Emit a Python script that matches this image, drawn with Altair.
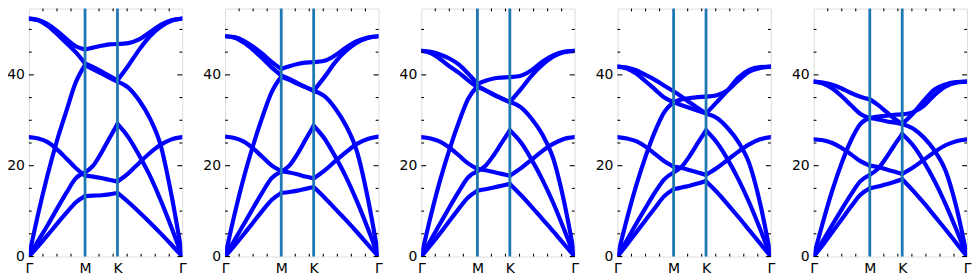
import altair as alt
import pandas as pd

# x positions along the path Γ-M-K-Γ (fraction of path length)
x_grid = [0.0, 0.061, 0.122, 0.183, 0.244, 0.305, 0.366, 0.419, 0.472, 0.524, 0.5774,
          0.6478, 0.7183, 0.7887, 0.8591, 0.9296, 1.0]
tick_pos = [0.0, 0.366, 0.5774, 1.0]
tick_labels = ["Γ", "M", "K", "Γ"]
vline_pos = [0.366, 0.5774]
y_major = [0, 20, 40]
y_minor = [5, 10, 15, 25, 30, 35, 45, 50]
x_minor = [0.0915, 0.183, 0.2745, 0.4575, 0.549, 0.6405, 0.732, 0.8235, 0.915]

# ---------------- panel 1 ----------------
p1_za = [0, 2.3, 4.7, 7.2, 9.6, 11.9, 13.3, 13.4, 13.5, 13.7, 14.0, 12.0, 9.8, 7.5, 5.1, 2.6, 0]
p1_ta = [0, 3.5, 6.9, 10.5, 14.0, 17.2, 18.5, 20.0, 22.8, 26.0, 29.2, 26.3, 22.3, 17.8, 12.4, 6.4, 0]
p1_zo = [26.3, 26.0, 25.2, 23.6, 21.6, 19.5, 17.8, 17.6, 17.3, 16.9, 16.5, 18.3, 20.6, 22.8, 24.6, 25.8, 26.3]
p1_la = [0, 9.5, 18.0, 25.5, 32.0, 38.3, 42.2, 41.2, 40.3, 39.4, 38.5, 37.2, 34.4, 30.4, 24.5, 13.5, 0]
p1_to = [52.4, 52.0, 50.8, 49.0, 47.0, 45.0, 42.5, 41.7, 40.8, 39.8, 38.8, 42.0, 45.5, 48.5, 50.6, 51.9, 52.4]
p1_lo = [52.4, 52.1, 51.2, 49.7, 47.9, 46.3, 45.6, 46.0, 46.4, 46.7, 46.8, 47.0, 47.8, 49.4, 51.0, 52.0, 52.4]

# ---------------- panel 2 ----------------
p2_za = [0, 2.4, 4.9, 7.5, 10.1, 12.5, 14.0, 14.2, 14.5, 14.9, 15.3, 13.0, 10.5, 8.0, 5.4, 2.7, 0]
p2_ta = [0, 3.6, 7.1, 10.7, 14.2, 17.3, 18.7, 20.0, 22.6, 25.7, 28.8, 26.0, 22.0, 17.5, 12.2, 6.3, 0]
p2_zo = [26.4, 26.1, 25.3, 23.8, 21.9, 20.0, 18.8, 18.5, 18.1, 17.6, 17.2, 18.9, 21.0, 23.0, 24.8, 25.9, 26.4]
p2_la = [0, 9.2, 17.4, 24.5, 30.8, 36.3, 39.6, 38.9, 38.0, 37.3, 36.5, 35.3, 32.6, 28.8, 23.2, 13.0, 0]
p2_to = [48.5, 48.2, 47.1, 45.5, 43.6, 41.6, 39.9, 39.1, 38.2, 37.3, 36.5, 39.5, 42.8, 45.3, 47.1, 48.1, 48.5]
p2_lo = [48.5, 48.3, 47.5, 46.2, 44.6, 42.8, 41.3, 41.9, 42.4, 42.7, 42.8, 43.1, 44.3, 46.0, 47.4, 48.2, 48.5]

# ---------------- panel 3 ----------------
p3_za = [0, 2.5, 5.1, 7.8, 10.5, 13.0, 14.5, 14.8, 15.2, 15.6, 16.0, 13.6, 11.0, 8.3, 5.6, 2.8, 0]
p3_ta = [0, 3.6, 7.2, 10.8, 14.3, 17.4, 18.8, 20.0, 22.3, 25.0, 27.8, 25.2, 21.4, 17.0, 11.9, 6.1, 0]
p3_zo = [26.3, 26.0, 25.3, 24.0, 22.3, 20.5, 19.3, 19.0, 18.6, 18.2, 17.8, 19.4, 21.3, 23.2, 24.8, 25.9, 26.3]
p3_la = [0, 8.8, 16.7, 23.5, 29.5, 34.7, 37.5, 36.6, 35.6, 34.8, 34.0, 32.9, 30.4, 26.9, 21.7, 12.3, 0]
p3_to = [45.3, 44.8, 43.5, 41.9, 40.5, 38.8, 37.3, 36.6, 35.7, 34.8, 34.0, 36.8, 39.8, 42.2, 44.0, 45.0, 45.3]
p3_lo = [45.3, 45.1, 44.5, 43.6, 42.3, 40.3, 38.0, 38.7, 39.2, 39.4, 39.5, 39.8, 41.0, 42.9, 44.3, 45.1, 45.3]

# ---------------- panel 4 ----------------
p4_za = [0, 2.6, 5.3, 8.0, 10.7, 13.3, 14.8, 15.2, 15.6, 16.1, 16.6, 14.2, 11.5, 8.7, 5.8, 2.9, 0]
p4_ta = [0, 3.6, 7.2, 10.7, 14.1, 17.0, 18.5, 19.8, 22.2, 25.0, 27.8, 25.1, 21.4, 17.0, 11.9, 6.1, 0]
p4_zo = [26.3, 26.0, 25.4, 24.2, 22.6, 21.0, 19.8, 19.5, 19.0, 18.5, 18.0, 19.5, 21.3, 23.1, 24.7, 25.8, 26.3]
p4_la = [0, 8.2, 15.6, 22.0, 27.5, 31.8, 34.0, 33.3, 32.7, 32.1, 31.5, 34.0, 36.6, 39.4, 41.1, 41.7, 41.8]
p4_to = [41.8, 41.4, 40.3, 38.6, 36.8, 35.0, 34.0, 34.6, 34.9, 35.1, 35.2, 35.5, 36.6, 38.8, 40.7, 41.5, 41.8]
p4_lo = [41.8, 41.6, 41.0, 40.0, 38.9, 37.6, 36.4, 35.2, 33.9, 32.7, 31.5, 30.5, 28.3, 25.2, 20.5, 11.8, 0]

# ---------------- panel 5 ----------------
p5_za = [0, 2.6, 5.4, 8.2, 11.0, 13.6, 15.0, 15.4, 15.9, 16.4, 17.0, 14.5, 11.8, 8.9, 6.0, 3.0, 0]
p5_ta = [0, 3.5, 7.0, 10.4, 13.7, 16.6, 18.0, 19.3, 21.7, 24.4, 27.0, 24.5, 20.9, 16.6, 11.6, 6.0, 0]
p5_zo = [25.8, 25.6, 25.0, 23.9, 22.5, 21.0, 20.0, 19.7, 19.2, 18.7, 18.2, 19.6, 21.3, 23.0, 24.5, 25.4, 25.8]
p5_la = [0, 7.6, 14.6, 20.6, 25.6, 29.2, 30.5, 30.2, 29.8, 29.5, 29.2, 31.5, 34.3, 36.8, 37.9, 38.4, 38.5]
p5_to = [38.5, 38.1, 37.0, 35.3, 33.3, 31.4, 30.5, 30.8, 31.0, 31.2, 31.3, 31.8, 33.2, 35.6, 37.4, 38.3, 38.5]
p5_lo = [38.5, 38.3, 37.8, 37.0, 36.0, 35.2, 34.6, 33.4, 31.9, 30.4, 29.2, 28.2, 26.2, 23.3, 19.0, 11.0, 0]

panels = [
    [p1_za, p1_ta, p1_zo, p1_la, p1_to, p1_lo],
    [p2_za, p2_ta, p2_zo, p2_la, p2_to, p2_lo],
    [p3_za, p3_ta, p3_zo, p3_la, p3_to, p3_lo],
    [p4_za, p4_ta, p4_zo, p4_la, p4_to, p4_lo],
    [p5_za, p5_ta, p5_zo, p5_la, p5_to, p5_lo],
]

W = 154
H = 249
Y_TOP = 54.6
MAJ = 4.9
MIN = 2.8
FONT = "DejaVu Sans"

segments = [(0, 6), (6, 10), (10, 16)]


def label_expr():
    parts = []
    for i in range(len(tick_pos) - 1):
        mid = (tick_pos[i] + tick_pos[i + 1]) / 2
        parts.append(f"datum.value < {mid:.4f} ? '{tick_labels[i]}' : ")
    return "".join(parts) + f"'{tick_labels[-1]}'"


xscale = alt.Scale(domain=[0, 1], nice=False, zero=False)
yscale = alt.Scale(domain=[0, Y_TOP], nice=False, zero=False)

x_axis = alt.Axis(values=tick_pos, labelExpr=label_expr(), title=None, ticks=False, grid=False,
                  domain=False, labelPadding=5, labelFlush=False, labelOverlap=False,
                  labelFontSize=14, labelFont=FONT, labelColor="black", labelAngle=0)
y_axis = alt.Axis(values=y_major, title=None, ticks=False, grid=False, domain=False,
                  labelPadding=4.5, labelFlush=False, labelOverlap=False,
                  labelFontSize=14, labelFont=FONT, labelColor="black")

X = alt.X("x:Q", scale=xscale, axis=x_axis, title=None)
Y = alt.Y("y:Q", scale=yscale, axis=y_axis, title=None)


def make_panel(bands):
    rows = []
    for b, vals in enumerate(bands):
        for s, (i0, i1) in enumerate(segments):
            for i in range(i0, i1 + 1):
                rows.append({"x": x_grid[i], "y": vals[i], "key": f"b{b}s{s}"})
    df = pd.DataFrame(rows)

    lines = alt.Chart(df).mark_line(color="#0000ff", strokeWidth=4.2, interpolate="monotone",
                                    clip=True, strokeCap="round").encode(
        x=X, y=Y, detail="key:N",
    )
    vl = alt.Chart(pd.DataFrame({"x": vline_pos})).mark_rule(color="#1f77b4", strokeWidth=2.8).encode(x=X)
    layers = [lines, vl]
    ymaj = pd.DataFrame({"y": y_major})
    ymin = pd.DataFrame({"y": y_minor})
    xmin = pd.DataFrame({"x": x_minor})
    for data, ln in [(ymaj, MAJ), (ymin, MIN)]:
        for x0, x1 in [(0, ln), (W, W - ln)]:
            layers.append(alt.Chart(data).mark_rule(color="black", strokeWidth=1.1).encode(
                y=Y, x=alt.value(x0), x2=alt.value(x1)))
    for y0, y1 in [(H, H - MIN), (0, MIN)]:
        layers.append(alt.Chart(xmin).mark_rule(color="black", strokeWidth=1.1).encode(
            x=X, y=alt.value(y0), y2=alt.value(y1)))
    return alt.layer(*layers).properties(width=W, height=H)


chart = alt.hconcat(*[make_panel(b) for b in panels], spacing=43, bounds="flush").properties(
    padding={"left": -2, "top": -2, "right": 0, "bottom": 0}
).configure_view(stroke="black", strokeWidth=1.1).configure(background="white")

chart.save("out.html", embed_options={"renderer": "svg", "actions": False})
